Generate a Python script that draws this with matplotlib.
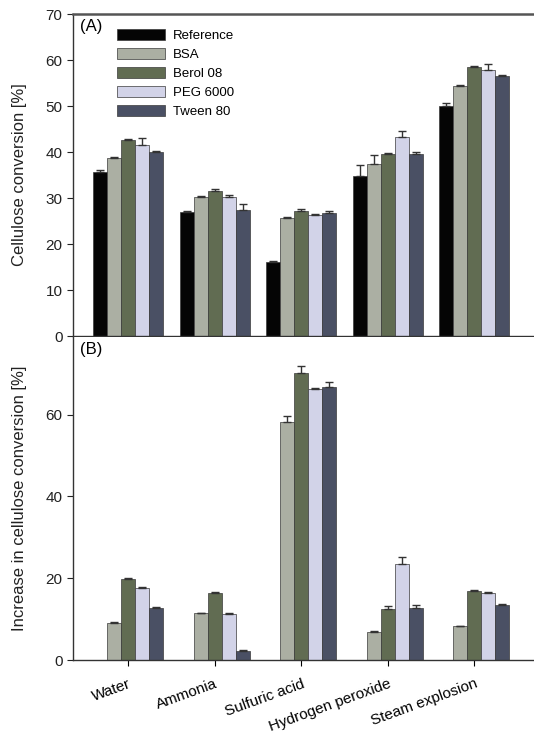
import numpy as np
import matplotlib
matplotlib.use("Agg")
import matplotlib.pyplot as plt

categories = ["Water", "Ammonia", "Sulfuric acid", "Hydrogen peroxide", "Steam explosion"]
series = ["Reference", "BSA", "Berol 08", "PEG 6000", "Tween 80"]
colors = ["#050505", "#abafa3", "#616c52", "#d2d3e8", "#4a5064"]

# Panel A: cellulose conversion [%]
conv_ref = [35.6, 27.0, 16.0, 34.8, 50.0]
conv_bsa = [38.8, 30.2, 25.6, 37.3, 54.3]
conv_berol = [42.6, 31.5, 27.2, 39.5, 58.4]
conv_peg = [41.6, 30.3, 26.4, 43.3, 57.8]
conv_tween = [40.0, 27.5, 26.8, 39.5, 56.6]
conv_err_ref = [0.4, 0.2, 0.2, 2.4, 0.6]
conv_err_bsa = [0.2, 0.2, 0.3, 2.0, 0.3]
conv_err_berol = [0.3, 0.4, 0.5, 0.2, 0.2]
conv_err_peg = [1.4, 0.3, 0.2, 1.3, 1.4]
conv_err_tween = [0.3, 1.3, 0.4, 0.6, 0.2]

# Panel B: increase in cellulose conversion [%]
inc_bsa = [9.0, 11.4, 58.3, 6.9, 8.2]
inc_berol = [19.8, 16.3, 70.3, 12.4, 16.9]
inc_peg = [17.5, 11.3, 66.3, 23.5, 16.3]
inc_tween = [12.7, 2.3, 66.8, 12.7, 13.5]
inc_err_bsa = [0.2, 0.2, 1.3, 0.3, 0.2]
inc_err_berol = [0.3, 0.4, 1.7, 0.8, 0.2]
inc_err_peg = [0.4, 0.3, 0.3, 1.6, 0.3]
inc_err_tween = [0.2, 0.2, 1.1, 0.8, 0.2]

A_vals = [conv_ref, conv_bsa, conv_berol, conv_peg, conv_tween]
A_errs = [conv_err_ref, conv_err_bsa, conv_err_berol, conv_err_peg, conv_err_tween]
B_vals = [inc_bsa, inc_berol, inc_peg, inc_tween]
B_errs = [inc_err_bsa, inc_err_berol, inc_err_peg, inc_err_tween]

plt.rcParams['font.family'] = ['Liberation Sans', 'DejaVu Sans']

fig = plt.figure(figsize=(5.34, 7.39), dpi=100)
left = 73 / 534
axA = fig.add_axes([left, 1 - 336 / 739, 1 - left, (336 - 14) / 739])
axB = fig.add_axes([left, 1 - 660 / 739, 1 - left, (660 - 337) / 739])

x = np.arange(len(categories))
w = 0.162
offsets = (np.arange(5) - 2) * w

ekw = dict(ecolor="#333333", elinewidth=1.0, capsize=3, capthick=1.0)
for i in range(5):
    axA.bar(x + offsets[i], A_vals[i], w, color=colors[i], edgecolor="#3a3a3a",
            linewidth=0.5, label=series[i],
            yerr=[np.zeros(5), A_errs[i]], error_kw=ekw)
for j in range(4):
    i = j + 1
    axB.bar(x + offsets[i], B_vals[j], w, color=colors[i], edgecolor="#3a3a3a",
            linewidth=0.5, yerr=[np.zeros(5), B_errs[j]], error_kw=ekw)

for ax in (axA, axB):
    ax.set_xlim(-0.64, 4.69)
    ax.spines['right'].set_visible(False)
    for s in ax.spines.values():
        s.set_color("#333333")
        s.set_linewidth(1.0)
    ax.tick_params(axis='y', direction='out', length=4, labelsize=11, colors="#222222")

axA.set_ylim(0, 70)
axA.set_yticks([0, 10, 20, 30, 40, 50, 60, 70])
axA.set_xticks([])
axA.spines['top'].set_linewidth(1.8)
axA.spines['top'].set_color("#555555")
axA.set_ylabel("Cellulose conversion [%]", fontsize=12, color="#222222")
axA.text(0.015, 0.985, "(A)", transform=axA.transAxes, fontsize=12, va="top", ha="left")
axA.legend(loc="upper left", bbox_to_anchor=(0.07, 0.99), frameon=False, fontsize=9.5,
           handlelength=3.6, handleheight=0.9, labelspacing=0.45, handletextpad=0.6)

axB.set_ylim(0, 79)
axB.set_yticks([0, 20, 40, 60])
axB.spines['top'].set_visible(False)
axB.set_xticks(x)
axB.set_xticklabels(categories, rotation=20, ha="right", rotation_mode="anchor", fontsize=11)
axB.tick_params(axis='x', direction='out', length=4, pad=8)
axB.set_ylabel("Increase in cellulose conversion [%]", fontsize=12, color="#222222")
axB.text(0.015, 0.985, "(B)", transform=axB.transAxes, fontsize=12, va="top", ha="left")

axA.yaxis.set_label_coords(-0.10, 0.5)
axB.yaxis.set_label_coords(-0.10, 0.5)

fig.savefig("out.png", dpi=100)
